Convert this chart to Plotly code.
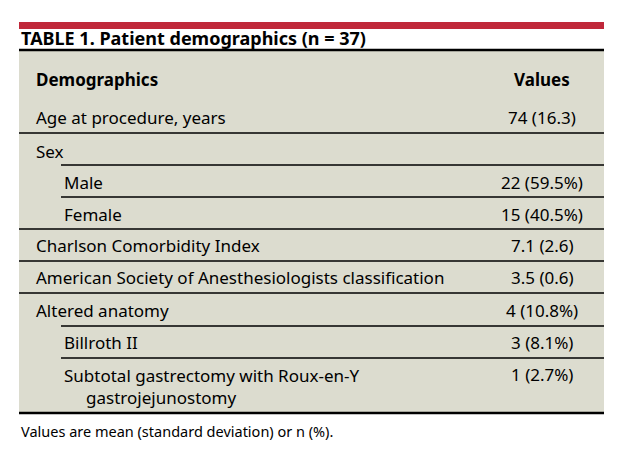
import plotly.graph_objects as go

title = "TABLE 1. Patient demographics (n = 37)"
header = ["Demographics", "Values"]
labels = ["Age at procedure, years", "Sex", "Male", "Female",
          "Charlson Comorbidity Index",
          "American Society of Anesthesiologists classification",
          "Altered anatomy", "Billroth II",
          "Subtotal gastrectomy with Roux-en-Y<br>   gastrojejunostomy"]
values = ["74 (16.3)", "", "22 (59.5%)", "15 (40.5%)", "7.1 (2.6)",
          "3.5 (0.6)", "4 (10.8%)", "3 (8.1%)", "1 (2.7%)"]
indent = [0, 0, 1, 1, 0, 0, 0, 1, 1]
footnote = "Values are mean (standard deviation) or n (%)."

# layout in pixel coordinates (DX/DY compensate page offset)
DX, DY = -7, -9
row_y = [118, 152, 183, 215, 246, 278, 311, 343, 375]
line_y = [134, 166, 198, 230, 262, 294, 327, 359]
line_start = [18, 60, 60, 18, 18, 18, 60, 60]
L, R = 18, 603
FONT = "Noto Sans"
BG = "#dcdccf"

fig = go.Figure()
shapes = [
    dict(type="rect", x0=L, x1=R, y0=23, y1=30, fillcolor="#c0283a", line_width=0),
    dict(type="rect", x0=L, x1=R, y0=51, y1=414, fillcolor=BG, line_width=0),
    dict(type="line", x0=L, x1=R, y0=51, y1=51, line=dict(color="black", width=2.5)),
    dict(type="line", x0=L, x1=R, y0=414, y1=414, line=dict(color="black", width=2.5)),
]
for y, x0 in zip(line_y, line_start):
    shapes.append(dict(type="line", x0=x0, x1=R, y0=y, y1=y,
                       line=dict(color="black", width=1.5)))
for s in shapes:
    s.update(x0=s["x0"] + DX, x1=s["x1"] + DX, y0=s["y0"] + DY, y1=s["y1"] + DY)

ann = [
    dict(x=L, y=39, text="<b>" + title + "</b>", xanchor="left", font=dict(size=18)),
    dict(x=33, y=80, text="<b>" + header[0] + "</b>", xanchor="left"),
    dict(x=541, y=80, text="<b>" + header[1] + "</b>", xanchor="center"),
    dict(x=L, y=432, text=footnote, xanchor="left", font=dict(size=14.5)),
]
for lab, val, ind, y in zip(labels, values, indent, row_y):
    multi = "<br>" in lab
    ann.append(dict(x=33 + 28 * ind, y=y + (12 if multi else 0),
                    text=lab.replace("   ", "&nbsp;&nbsp;&nbsp;&nbsp;&nbsp;"),
                    xanchor="left", align="left"))
    ann.append(dict(x=541, y=y, text=val, xanchor="center"))
for a in ann:
    a.update(xref="x", yref="y", showarrow=False, yanchor="middle",
             x=a["x"] + DX, y=a["y"] + DY)
    a.setdefault("font", dict(size=17))
    a["font"].update(family=FONT, color="black")

fig.update_layout(
    width=620, height=452, margin=dict(l=0, r=0, t=0, b=0),
    paper_bgcolor="white", plot_bgcolor="white",
    xaxis=dict(range=[0, 620], visible=False, fixedrange=True),
    yaxis=dict(range=[452, 0], visible=False, fixedrange=True),
    shapes=shapes, annotations=ann, showlegend=False,
)
fig.write_html("out.html")
